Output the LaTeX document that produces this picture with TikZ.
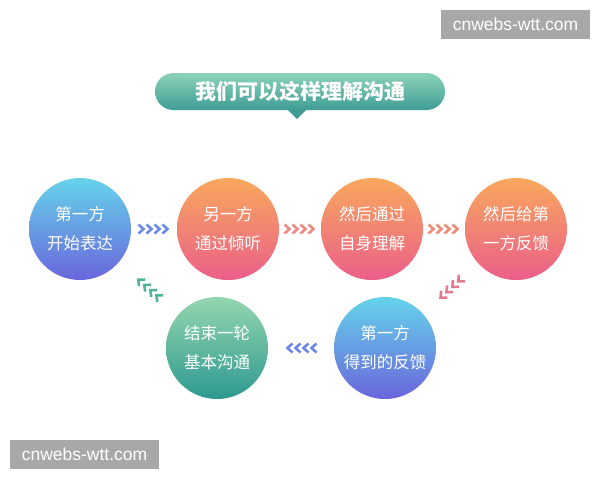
\documentclass[tikz,border=0pt]{standalone}
\usepackage{fontspec}
\setmainfont{Liberation Sans}
\newfontfamily\cjk{Noto Sans CJK SC}
\usetikzlibrary{decorations.markings}
\definecolor{cyanT}{HTML}{65D3EA}
\definecolor{blueB}{HTML}{6A66DC}
\definecolor{orT}{HTML}{F8A85C}
\definecolor{pkB}{HTML}{EB5F8A}
\definecolor{grT}{HTML}{94D6AE}
\definecolor{grB}{HTML}{2E9990}
\definecolor{tiT}{HTML}{8CD3B8}
\definecolor{tiB}{HTML}{3F9D96}
\definecolor{wmgrey}{HTML}{A8A8A8}
\definecolor{chA}{HTML}{6A8BE6}
\definecolor{chB}{HTML}{EE8A80}
\definecolor{chC}{HTML}{F08C72}
\definecolor{chD}{HTML}{E57A8E}
\definecolor{chE}{HTML}{6C86E6}
\definecolor{chF}{HTML}{4DB598}
\begin{document}
\begin{tikzpicture}[x=1pt,y=-1pt,
  bubble/.style={circle, minimum size=102pt, inner sep=0pt, align=center, text=white,
    font=\cjk\fontsize{16.5}{29}\selectfont},
  warm/.style={bubble, top color=orT, bottom color=pkB},
  cool/.style={bubble, top color=cyanT, bottom color=blueB},
  green/.style={bubble, top color=grT, bottom color=grB},
  banner/.style={rectangle, rounded corners=18.5pt, minimum width=290pt, minimum height=37pt,
    top color=tiT, bottom color=tiB, text=white, font=\cjk\bfseries\fontsize{21}{24}\selectfont},
  watermark/.style={rectangle, fill=wmgrey, text=white, minimum width=149pt, minimum height=29pt,
    inner sep=0pt, font=\fontsize{17.5}{20}\selectfont},
  chev/.style={postaction={decorate, decoration={markings, mark=at position 0.5 with {
    \foreach \d in {-12,-4,4,12}{
      \draw[#1, line width=2.6pt, line cap=butt, line join=miter]
        (\d pt,0pt) ++(-3.5pt,4.5pt) -- ++(5pt,-4.5pt) -- ++(-5pt,-4.5pt);
    }}}}}
]
\useasboundingbox (0,0) rectangle (600,480);
\fill[white] (0,0) rectangle (600,480);

% title banner
\node[banner] (title) at (300,91.5) {我们可以这样理解沟通};
\coordinate (tip) at (297,119);
\fill[tiB] ([xshift=-9pt]title.south -| tip) -- (tip) -- ([xshift=9pt]title.south -| tip) -- cycle;

% circles
\node[cool]  (c1) at (80,229)  {第一方\\开始表达};
\node[warm]  (c2) at (228,229) {另一方\\通过倾听};
\node[warm]  (c3) at (372,229) {然后通过\\自身理解};
\node[warm]  (c4) at (516,229) {然后给第\\一方反馈};
\node[cool]  (c6) at (385,348) {第一方\\得到的反馈};
\node[green] (c5) at (217,348) {结束一轮\\基本沟通};

% chevron connectors
\path[chev=chA] (c1.center) -- (c2.center);
\path[chev=chB] (c2.center) -- (c3.center);
\path[chev=chC] (c3.center) -- (c4.center);
\path[chev=chD] (c4.center) -- (c6.center);
\path[chev=chE] (c6.center) -- (c5.center);
\path[chev=chF] (c5.center) -- (c1.center);

% watermarks
\node[watermark] (wm1) at (515.5,24.5) {cnwebs-wtt.com};
\node[watermark] (wm2) at (84.5,454.5) {cnwebs-wtt.com};
\end{tikzpicture}
\end{document}
